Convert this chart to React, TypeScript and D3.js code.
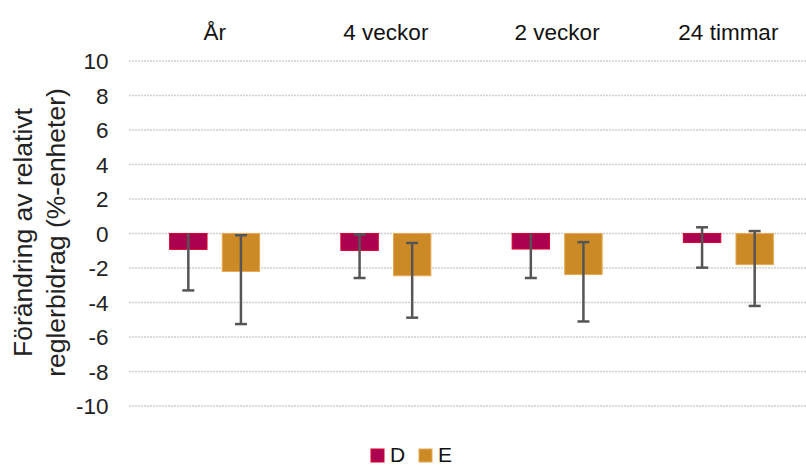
import React from "react";
import * as d3 from "d3";

const categories = ["År", "4 veckor", "2 veckor", "24 timmar"];
const seriesNames = ["D", "E"];
const valuesD = [-0.92, -0.98, -0.9, -0.52];
const valuesE = [-2.2, -2.45, -2.38, -1.8];
const errLowD = [-3.3, -2.58, -2.58, -1.98];
const errHighD = [0.0, -0.05, 0.0, 0.36];
const errLowE = [-5.25, -4.88, -5.1, -4.2];
const errHighE = [-0.1, -0.55, -0.5, 0.14];
const yTicks = [10, 8, 6, 4, 2, 0, -2, -4, -6, -8, -10];

const W = 806;
const H = 466;
const colors = ["#AC0050", "#CC8A26"];
const strokes = ["#D8002A", "#E8A854"];

export default function App() {
  const x0 = d3.scaleBand<string>().domain(categories).range([129, 814]).paddingInner(0).paddingOuter(0);
  const x1 = d3.scaleBand<string>().domain(seriesNames).range([0, 91]).paddingInner(0.27);
  const y = d3.scaleLinear().domain([-10, 10]).range([406, 61]);
  const font = "Liberation Sans, Arial, sans-serif";
  const series = [
    { name: "D", vals: valuesD, lo: errLowD, hi: errHighD },
    { name: "E", vals: valuesE, lo: errLowE, hi: errHighE },
  ];
  const legendX = [371, 419];
  return (
    <svg width={W} height={H} style={{ position: "absolute", left: 0, top: 0, background: "#fff" }}>
      {yTicks.map((t) => (
        <g key={t}>
          <line x1={129} x2={806} y1={y(t)} y2={y(t)} stroke="#d0d0d0" strokeWidth={1.3} strokeDasharray="2,1" />
          <text x={108.5} y={y(t)} dy="0.36em" textAnchor="end" fontFamily={font} fontSize={22.5} fill="#222">
            {t}
          </text>
        </g>
      ))}
      {categories.map((c) => (
        <text key={c} x={(x0(c) as number) + x0.bandwidth() / 2} y={39.5} textAnchor="middle" fontFamily={font} fontSize={22.5} fill="#111">
          {c}
        </text>
      ))}
      {categories.map((c, i) => {
        const gx = (x0(c) as number) + x0.bandwidth() / 2 - 45.5;
        return (
          <g key={c} transform={`translate(${gx},0)`}>
            {series.map((s, si) => {
              const bx = x1(s.name) as number;
              const bw = x1.bandwidth();
              const v = s.vals[i];
              return (
                <g key={s.name}>
                  <rect x={bx + 0.5} y={y(Math.max(0, v))} width={bw - 1} height={Math.abs(y(v) - y(0))} fill={colors[si]} stroke={strokes[si]} strokeWidth={1} />
                </g>
              );
            })}
            {series.map((s) => {
              const bx = x1(s.name) as number;
              const cx = bx + x1.bandwidth() / 2;
              return (
                <g key={s.name + "e"} stroke="#555" strokeWidth={2.5}>
                  <line x1={cx} x2={cx} y1={y(s.hi[i])} y2={y(s.lo[i])} />
                  <line x1={cx - 6} x2={cx + 6} y1={y(s.lo[i])} y2={y(s.lo[i])} />
                  {s.hi[i] !== 0 && <line x1={cx - 6} x2={cx + 6} y1={y(s.hi[i])} y2={y(s.hi[i])} />}
                </g>
              );
            })}
          </g>
        );
      })}
      <g transform="translate(32,232.5) rotate(-90)">
        <text x={0} y={0} textAnchor="middle" fontFamily={font} fontSize={26.5} fill="#222">
          Förändring av relativt
        </text>
      </g>
      <g transform="translate(65,232.5) rotate(-90)">
        <text x={0} y={0} textAnchor="middle" fontFamily={font} fontSize={26.5} fill="#222">
          reglerbidrag (%-enheter)
        </text>
      </g>
      {seriesNames.map((n, i) => {
        const lx = legendX[i];
        return (
          <g key={n}>
            <rect x={lx} y={449} width={13} height={13} fill={colors[i]} stroke={strokes[i]} strokeWidth={1} />
            <text x={lx + 19} y={461.5} fontFamily={font} fontSize={21} fill="#111">
              {n}
            </text>
          </g>
        );
      })}
    </svg>
  );
}
